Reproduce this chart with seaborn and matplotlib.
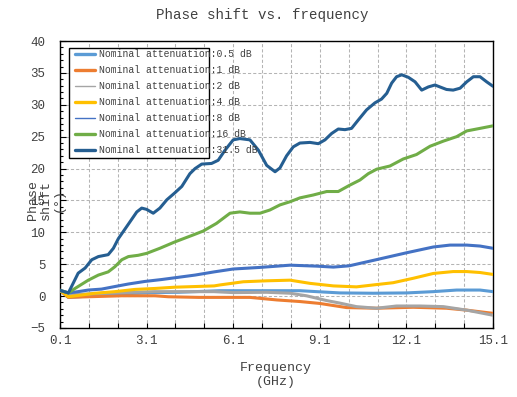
import matplotlib
matplotlib.use('Agg')
import matplotlib.pyplot as plt
import seaborn as sns
import pandas as pd
import numpy as np
from matplotlib.patches import Rectangle
from matplotlib.ticker import FixedLocator, MultipleLocator, FormatStrFormatter

sns.set_theme(style='white')
plt.rcParams['font.family'] = ['Liberation Mono', 'DejaVu Sans']

# ---------------- data ----------------
series_names = [
    "Nominal attenuation:0.5 dB",
    "Nominal attenuation:1 dB",
    "Nominal attenuation:2 dB",
    "Nominal attenuation:4 dB",
    "Nominal attenuation:8 dB",
    "Nominal attenuation:16 dB",
    "Nominal attenuation:31.5 dB",
]
colors = ["#5B9BD5", "#ED7D31", "#A5A5A5", "#FFC000", "#4472C4", "#70AD47", "#255E91"]

f_05 = [0.1, 0.39, 1.08, 2.24, 3.39, 4.2, 5.64, 7.26, 8.41, 8.99, 9.8, 10.95, 12.11, 13.03, 13.84, 14.65, 15.1]
p_05 = [0.9, -0.2, 0.0, 0.35, 0.55, 0.6, 0.85, 0.85, 0.85, 0.7, 0.5, 0.45, 0.5, 0.7, 0.95, 0.95, 0.7]

f_1 = [0.1, 0.39, 1.08, 2.24, 3.39, 3.85, 4.9, 6.68, 7.61, 8.41, 9.1, 10.03, 11.07, 12.34, 13.49, 14.19, 15.1]
p_1 = [0.9, -0.2, -0.1, 0.05, 0.05, -0.1, -0.2, -0.2, -0.6, -0.85, -1.15, -1.8, -1.9, -1.75, -1.9, -2.2, -2.7]

f_2 = [0.1, 0.39, 1.08, 2.24, 3.39, 4.55, 5.44, 6.1, 7.26, 8.07, 8.64, 9.34, 9.8, 10.37, 11.07, 11.76, 12.57, 13.38, 14.19, 15.1]
p_2 = [0.9, 0.2, 0.35, 0.55, 0.7, 0.7, 0.7, 0.55, 0.6, 0.45, 0.05, -0.7, -1.1, -1.65, -1.9, -1.55, -1.55, -1.65, -2.2, -3.0]

f_4 = [0.1, 0.39, 0.73, 1.31, 2.0, 2.7, 3.39, 4.08, 4.78, 5.44, 5.64, 6.45, 7.26, 8.07, 8.76, 9.57, 10.37, 10.95, 11.64, 12.34, 13.03, 13.72, 14.19, 14.65, 15.1]
p_4 = [0.9, -0.1, 0.1, 0.45, 0.7, 1.05, 1.2, 1.4, 1.5, 1.6, 1.75, 2.25, 2.4, 2.5, 2.0, 1.6, 1.45, 1.75, 2.1, 2.8, 3.55, 3.85, 3.85, 3.7, 3.4]

f_8 = [0.1, 0.39, 0.73, 1.08, 1.54, 2.0, 2.47, 3.04, 3.62, 4.2, 4.78, 5.44, 6.1, 7.03, 8.07, 8.99, 9.57, 10.12, 10.95, 12.11, 13.03, 13.61, 14.19, 14.65, 15.1]
p_8 = [0.9, 0.5, 0.7, 0.95, 1.1, 1.5, 1.9, 2.3, 2.6, 2.95, 3.3, 3.8, 4.25, 4.5, 4.85, 4.7, 4.55, 4.75, 5.6, 6.8, 7.7, 8.0, 8.0, 7.85, 7.5]

f_16 = [0.1, 0.39, 0.62, 1.08, 1.43, 1.77, 2.0, 2.24, 2.47, 2.81, 3.1, 3.56, 4.08, 4.72, 5.06, 5.52, 5.99, 6.33, 6.68, 7.03, 7.37, 7.72, 8.07, 8.41, 8.87, 9.34, 9.74, 10.14, 10.49, 10.78, 11.07, 11.53, 11.99, 12.45, 12.92, 13.38, 13.84, 14.19, 14.65, 15.1]
p_16 = [0.9, 0.5, 1.2, 2.5, 3.3, 3.8, 4.6, 5.7, 6.2, 6.4, 6.7, 7.5, 8.5, 9.6, 10.2, 11.4, 13.0, 13.2, 13.0, 13.0, 13.5, 14.3, 14.8, 15.4, 15.85, 16.4, 16.4, 17.4, 18.2, 19.2, 19.9, 20.4, 21.5, 22.2, 23.5, 24.3, 25.0, 25.9, 26.3, 26.7]

f_315 = [0.1, 0.39, 0.73, 0.97, 1.2, 1.43, 1.77, 1.95, 2.12, 2.41, 2.76, 2.93, 3.1, 3.33, 3.56, 3.8, 4.08, 4.32, 4.6, 4.78, 5.01, 5.35, 5.58, 5.82, 6.1, 6.33, 6.68, 6.97, 7.26, 7.55, 7.72, 7.95, 8.18, 8.41, 8.76, 9.05, 9.28, 9.51, 9.74, 9.97, 10.2, 10.43, 10.72, 11.01, 11.24, 11.42, 11.59, 11.76, 11.94, 12.17, 12.4, 12.63, 12.86, 13.09, 13.26, 13.49, 13.72, 13.96, 14.19, 14.42, 14.65, 14.88, 15.1]
p_315 = [0.9, 0.5, 3.6, 4.4, 5.7, 6.2, 6.5, 7.5, 9.0, 10.9, 13.2, 13.8, 13.6, 13.0, 13.8, 15.1, 16.2, 17.2, 19.2, 20.0, 20.7, 20.8, 21.3, 22.9, 24.5, 24.7, 24.5, 22.9, 20.5, 19.5, 20.1, 22.0, 23.4, 24.0, 24.1, 23.9, 24.5, 25.5, 26.2, 26.1, 26.3, 27.6, 29.2, 30.3, 30.9, 31.8, 33.4, 34.4, 34.7, 34.3, 33.6, 32.3, 32.8, 33.1, 32.8, 32.4, 32.3, 32.6, 33.6, 34.4, 34.4, 33.6, 32.9]

x_tick_values = [0.1, 3.1, 6.1, 9.1, 12.1, 15.1]
x_minor_values = [0.1 + i for i in range(16)]

title_text = "Phase shift vs. frequency"
xlabel_text = "Frequency\n(GHz)"
ylabel_text = "Phase\nshift\n(°)"

# ---------------- build long table ----------------
freqs = [f_05, f_1, f_2, f_4, f_8, f_16, f_315]
phases = [p_05, p_1, p_2, p_4, p_8, p_16, p_315]
frames = []
for name, f, p in zip(series_names, freqs, phases):
    frames.append(pd.DataFrame({"Frequency": f, "Phase": p, "Series": name}))
df = pd.concat(frames, ignore_index=True)

W, H = 517, 397
fig = plt.figure(figsize=(W / 100, H / 100), dpi=100)
ax_l, ax_r, ax_t, ax_b = 60, 493, 41, 328
ax = fig.add_axes([ax_l / W, (H - ax_b) / H, (ax_r - ax_l) / W, (ax_b - ax_t) / H])

sns.lineplot(data=df, x="Frequency", y="Phase", hue="Series", hue_order=series_names,
             palette=colors, estimator=None, sort=False, linewidth=2.2, ax=ax,
             legend=True, zorder=3)

ax.set_xlim(0.1, 15.1)
ax.set_ylim(-5, 40)
ax.xaxis.set_major_locator(FixedLocator(x_tick_values))
ax.xaxis.set_minor_locator(FixedLocator(x_minor_values))
ax.xaxis.set_major_formatter(FormatStrFormatter("%.1f"))
ax.yaxis.set_major_locator(MultipleLocator(5))
ax.yaxis.set_minor_locator(MultipleLocator(1))

grid_kw = dict(color="#B4B4B4", linestyle=(0, (3, 2)), linewidth=0.75)
ax.xaxis.grid(True, which="both", **grid_kw)
ax.yaxis.grid(True, which="major", **grid_kw)
ax.set_axisbelow(True)

for s in ax.spines.values():
    s.set_visible(True)
    s.set_color("black")
    s.set_linewidth(1.0)

ax.tick_params(axis="x", which="both", direction="in", length=3.5, width=0.8,
               color="black", labelcolor="#404040", labelsize=9, pad=5, bottom=True)
ax.tick_params(axis="y", which="major", direction="in", length=4, width=0.8,
               color="black", labelcolor="#404040", labelsize=9, pad=10.5, left=True)
ax.tick_params(axis="y", which="minor", direction="in", length=2.5, width=0.8,
               color="black", left=True)
ax.set_xlabel("")
ax.set_ylabel("")

# legend
handles, labels = ax.get_legend_handles_labels()
ax.get_legend().remove()
for h, lab in zip(handles, labels):
    if lab.endswith(":2 dB") or lab.endswith(":8 dB"):
        h.set_linewidth(1.0)
    else:
        h.set_linewidth(2.4)

def fx(px):
    return (px - ax_l) / (ax_r - ax_l)

def fy(py):
    return (ax_b - py) / (ax_b - ax_t)

rect = Rectangle((fx(69), fy(158)), fx(209) - fx(69), fy(48) - fy(158),
                 transform=ax.transAxes, facecolor="white", edgecolor="black",
                 linewidth=1.0, zorder=2.5)
ax.add_patch(rect)
leg = ax.legend(handles, labels, loc="upper left", bbox_to_anchor=(fx(75), fy(49)),
                frameon=False, fontsize=7, borderpad=0, borderaxespad=0,
                handlelength=2.1, handletextpad=0.35, labelspacing=0.62,
                labelcolor="#404040")
leg.set_zorder(5)

fig.text(262 / W, 1 - 15 / H, title_text, ha="center", va="center",
         fontsize=10.2, color="#404040")
fig.text(276 / W, 1 - 375 / H, xlabel_text, ha="center", va="center",
         fontsize=9.5, color="#404040", linespacing=1.15, multialignment="center")
fig.text(46 / W, 1 - 200 / H, ylabel_text, ha="center", va="center", rotation=90,
         fontsize=9.5, color="#404040", linespacing=1.1, multialignment="center")

fig.savefig("out.png", dpi=100)
